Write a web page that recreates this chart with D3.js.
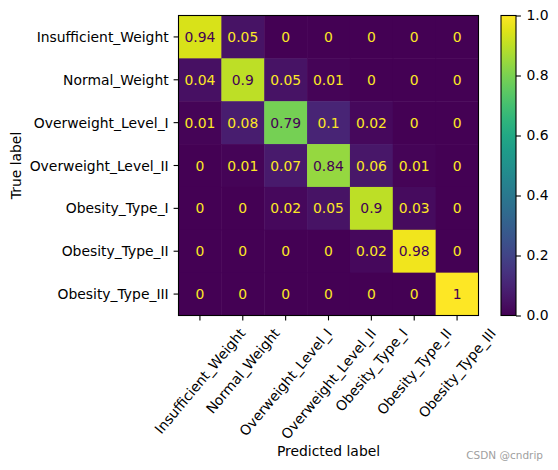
<!DOCTYPE html>
<html><head><meta charset="utf-8">
<script src="https://cdn.jsdelivr.net/npm/d3@7"></script>
<style>body{margin:0;background:#fff}svg{display:block}text{font-family:"DejaVu Sans",sans-serif}</style>
</head><body>
<svg id="c" width="558" height="470"></svg>
<script>
const labels = ["Insufficient_Weight","Normal_Weight","Overweight_Level_I","Overweight_Level_II","Obesity_Type_I","Obesity_Type_II","Obesity_Type_III"];
const row0 = [0.94,0.05,0,0,0,0,0];
const row1 = [0.04,0.9,0.05,0.01,0,0,0];
const row2 = [0.01,0.08,0.79,0.1,0.02,0,0];
const row3 = [0,0.01,0.07,0.84,0.06,0.01,0];
const row4 = [0,0,0.02,0.05,0.9,0.03,0];
const row5 = [0,0,0,0,0.02,0.98,0];
const row6 = [0,0,0,0,0,0,1];
const matrix = [row0,row1,row2,row3,row4,row5,row6];
const cbTicks = [0,0.2,0.4,0.6,0.8,1.0];

const svg = d3.select("#c");
const FS = 13.9;
const L = 178.5, T = 15.5, S = 300;
const x = d3.scaleBand().domain(d3.range(7)).range([L, L+S]);
const y = d3.scaleBand().domain(d3.range(7)).range([T, T+S]);
const color = d3.scaleSequential(d3.interpolateViridis).domain([0,1]);
const cells = [];
matrix.forEach((r,i)=>r.forEach((v,j)=>cells.push({i,j,v})));

svg.append("g").selectAll("rect").data(cells).join("rect")
  .attr("x",d=>x(d.j)).attr("y",d=>y(d.i))
  .attr("width",x.bandwidth()+0.5).attr("height",y.bandwidth()+0.5)
  .attr("fill",d=>color(d.v));
svg.append("g").selectAll("text").data(cells).join("text")
  .attr("x",d=>x(d.j)+x.bandwidth()/2).attr("y",d=>y(d.i)+y.bandwidth()/2)
  .attr("text-anchor","middle").attr("dominant-baseline","central")
  .attr("font-size",FS)
  .attr("fill",d=>d.v>0.5?color(0):color(1))
  .text(d=>String(d.v));
svg.append("rect").attr("x",L).attr("y",T).attr("width",S).attr("height",S)
  .attr("fill","none").attr("stroke","#000").attr("stroke-width",1.1);

// y axis
const yg = svg.append("g");
labels.forEach((lab,i)=>{
  const cy = y(i)+y.bandwidth()/2;
  yg.append("line").attr("x1",L).attr("x2",L-4.9).attr("y1",cy).attr("y2",cy).attr("stroke","#000").attr("stroke-width",1.1);
  yg.append("text").attr("x",L-9.8).attr("y",cy).attr("text-anchor","end").attr("dominant-baseline","central").attr("font-size",FS).attr("fill","#000").text(lab);
});
// x axis
const xg = svg.append("g");
const topY = T+S+9.8;
const ang = 50*Math.PI/180;
labels.forEach((lab,j)=>{
  const cx = x(j)+x.bandwidth()/2;
  xg.append("line").attr("x1",cx).attr("x2",cx).attr("y1",T+S).attr("y2",T+S+4.9).attr("stroke","#000").attr("stroke-width",1.1);
  const t = xg.append("text").attr("text-anchor","middle").attr("dominant-baseline","central").attr("font-size",FS).attr("fill","#000").text(lab);
  const len = t.node().getComputedTextLength();
  const h = FS*1.16;
  const halfH = (len*Math.sin(ang)+h*Math.cos(ang))/2;
  t.attr("transform",`translate(${cx},${topY+halfH}) rotate(-50)`);
});
svg.append("text").attr("x",L+S/2).attr("y",456).attr("text-anchor","middle").attr("font-size",FS).attr("fill","#000").text("Predicted label");
svg.append("text").attr("transform",`translate(20.5,${T+S/2}) rotate(-90)`).attr("text-anchor","middle").attr("font-size",FS).attr("fill","#000").text("True label");

// colorbar
const CX = 501, CW = 15;
const defs = svg.append("defs");
const grad = defs.append("linearGradient").attr("id","vg").attr("x1",0).attr("y1",1).attr("x2",0).attr("y2",0);
d3.range(0,1.0001,0.05).forEach(t=>grad.append("stop").attr("offset",t).attr("stop-color",color(t)));
svg.append("rect").attr("x",CX).attr("y",T).attr("width",CW).attr("height",S).attr("fill","url(#vg)").attr("stroke","#000").attr("stroke-width",1.1);
const cy = d3.scaleLinear().domain([0,1]).range([T+S,T]);
const cg = svg.append("g").attr("transform",`translate(${CX+CW},0)`);
const ax = d3.axisRight(cy).tickValues(cbTicks).tickFormat(d3.format(".1f")).tickSize(4.9).tickPadding(5.5);
cg.call(ax);
cg.select(".domain").remove();
cg.selectAll("line").attr("stroke-width",1.1);
cg.selectAll("text").attr("font-size",FS).attr("font-family","DejaVu Sans").attr("fill","#000");

svg.append("text").attr("x",543).attr("y",459).attr("text-anchor","end").attr("font-size",10.5).attr("fill","#a0a0a0").text("CSDN @cndrip");
</script>
</body></html>
